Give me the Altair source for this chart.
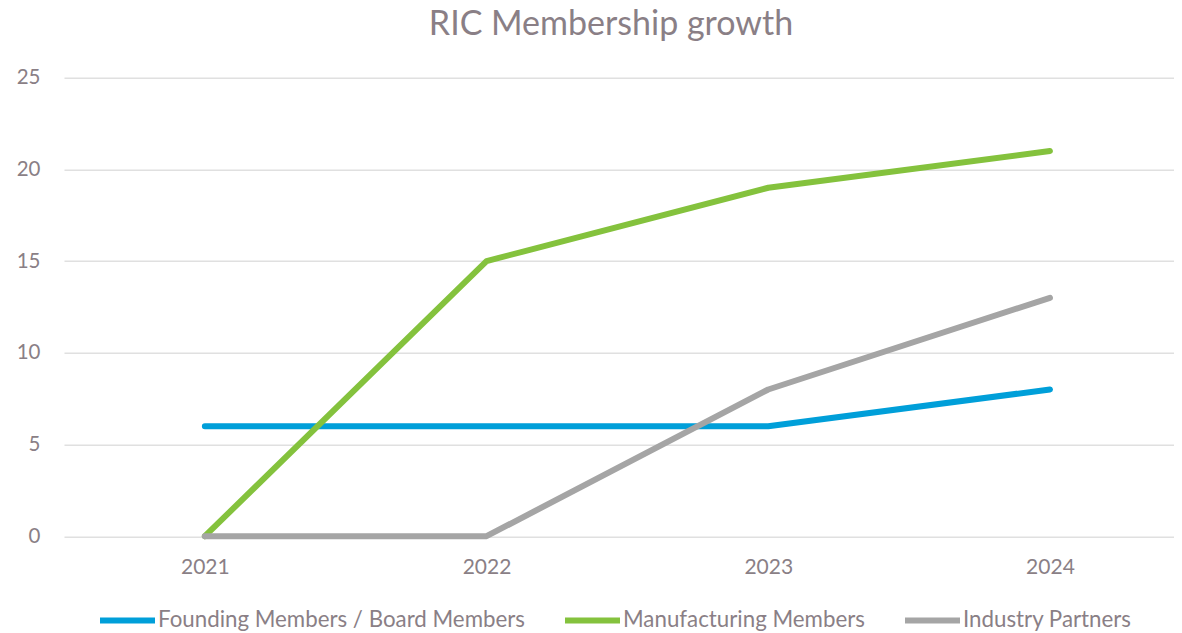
import altair as alt
import pandas as pd

years = [2021, 2022, 2023, 2024]
founding = [6, 6, 6, 8]
manufacturing = [0, 15, 19, 21]
industry = [0, 0, 8, 13]
series_names = ["Founding Members / Board Members", "Manufacturing Members", "Industry Partners"]
series_colors = ["#009FD9", "#84C23D", "#A5A5A5"]

rows = []
for k, (name, vals) in enumerate(zip(series_names, [founding, manufacturing, industry])):
    for y, v in zip(years, vals):
        rows.append({"year": y, "series": name, "value": v, "series_order": k})
df = pd.DataFrame(rows)

text_color = "#8A7F86"
W = 1110
H = 458.5
step = 281.7
x_min = 2020.5
x_max = x_min + W / step

chart = alt.Chart(df).mark_line(strokeWidth=6, strokeCap="round", strokeJoin="round").encode(
    x=alt.X("year:Q",
            scale=alt.Scale(domain=[x_min, x_max], nice=False, zero=False),
            axis=alt.Axis(title=None, values=years, format="d", labelAngle=0, ticks=False,
                          domain=False, grid=False, labelPadding=20, labelFontSize=21,
                          labelColor=text_color, labelFont="Lato", labelFlush=False)),
    y=alt.Y("value:Q", scale=alt.Scale(domain=[0, 25]),
            axis=alt.Axis(title=None, values=[0, 5, 10, 15, 20, 25], ticks=False, domain=False,
                          gridColor="#E0E0E0", gridWidth=1.5, labelPadding=24,
                          labelFontSize=20.5, labelColor=text_color, labelFont="Lato")),
    color=alt.Color("series:N", sort=series_names,
                    scale=alt.Scale(domain=series_names, range=series_colors),
                    legend=alt.Legend(title=None, orient="none", direction="horizontal",
                                      legendX=33, legendY=512, symbolType="stroke",
                                      symbolSize=3025, symbolStrokeWidth=6, labelOffset=0,
                                      columnPadding=28, labelFontSize=22.3, labelColor=text_color,
                                      labelFont="Lato", labelLimit=450, padding=0)),
    order=alt.Order("series_order:Q"),
).properties(
    width=W, height=H,
    title=alt.TitleParams("RIC Membership growth", fontSize=34, font="Lato", fontWeight="normal",
                          color=text_color, anchor="middle", dx=-8, offset=26),
    autosize=alt.AutoSizeParams(type="none"),
    padding={"left": 56, "top": 69.7, "right": 0, "bottom": 96.8},
).configure_view(stroke=None)

chart.save("out.html", embed_options={"renderer": "svg", "actions": False})
